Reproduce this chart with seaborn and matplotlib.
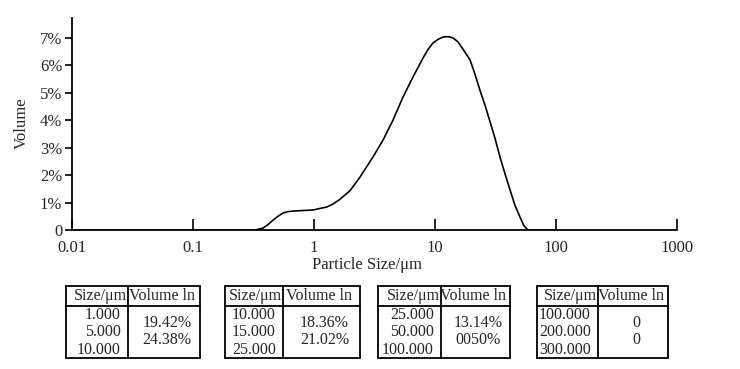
import numpy as np
import pandas as pd
import seaborn as sns
import matplotlib.pyplot as plt
from matplotlib.lines import Line2D
from matplotlib.ticker import FuncFormatter, FixedLocator, NullLocator

# Кривая распределения частиц по размерам
size_um = [0.01, 0.325, 0.379, 0.417, 0.459, 0.504, 0.554, 0.61, 0.671, 0.811,
           0.981, 1.28, 1.44, 1.64, 1.99, 2.40, 3.07, 3.72, 4.50, 5.44,
           6.58, 7.96, 8.75, 9.62, 10.6, 11.6, 12.3, 13.3, 14.1, 15.5,
           17.0, 19.5, 21.4, 23.5, 25.9, 28.5, 31.3, 34.5, 37.9, 41.7,
           45.8, 50.4, 54.4, 58.7, 100]
volume_pct = [0, 0, 0.07, 0.2, 0.36, 0.5, 0.62, 0.67, 0.69, 0.71,
              0.73, 0.84, 0.95, 1.12, 1.44, 1.93, 2.66, 3.28, 4.01, 4.85,
              5.58, 6.27, 6.58, 6.82, 6.95, 7.03, 7.05, 7.04, 7.0, 6.86,
              6.6, 6.2, 5.68, 5.1, 4.55, 3.95, 3.35, 2.65, 2.05, 1.46,
              0.9, 0.47, 0.15, 0, 0]

x_ticks = [0.01, 0.1, 1, 10, 100, 1000]
x_tick_labels = ['0.01', '0.1', '1', '10', '100', '1000']
y_ticks = [0, 1, 2, 3, 4, 5, 6, 7]

# Таблицы под графиком
table_sizes = [['1.000', '5.000', '10.000'],
               ['10.000', '15.000', '25.000'],
               ['25.000', '50.000', '100.000'],
               ['100.000', '200.000', '300.000']]
table_volumes = [['19.42%', '24.38%'],
                 ['18.36%', '21.02%'],
                 ['13.14%', '0050%'],
                 ['0', '0']]

W, H = 740, 369
sns.set_theme(style='white')
plt.rcParams['font.family'] = ['Liberation Serif', 'DejaVu Serif']
plt.rcParams['font.size'] = 12

df = pd.DataFrame({'size': size_um, 'volume': volume_pct})

fig = plt.figure(figsize=(W / 100, H / 100), dpi=100)
ax = fig.add_axes([72 / W, 1 - 230 / H, 605 / W, 212 / H])
sns.lineplot(data=df, x='size', y='volume', ax=ax, color='black', linewidth=1.2)
ax.set_xscale('log')
ax.set_xlim(0.01, 1000)
ax.set_ylim(0, 7.73)

ax.xaxis.set_major_locator(FixedLocator(x_ticks))
ax.xaxis.set_minor_locator(NullLocator())
ax.set_xticklabels(x_tick_labels)
ax.set_yticks(y_ticks)
ax.yaxis.set_major_formatter(FuncFormatter(lambda v, p: '0' if v == 0 else f'{int(v)}%'))
ax.tick_params(axis='x', direction='in', length=8, width=1.2, color='black',
               labelsize=12, pad=7, bottom=True)
ax.tick_params(axis='y', direction='out', length=5, width=1.2, color='black',
               labelsize=12, pad=2, left=True)

for s in ['top', 'right']:
    ax.spines[s].set_visible(False)
for s in ['left', 'bottom']:
    ax.spines[s].set_color('black')
    ax.spines[s].set_linewidth(1.3)

ax.set_xlabel('Particle Size/μm', fontsize=12)
ax.xaxis.set_label_coords((367 - 72) / 605, -(257 - 230) / 212)
ax.set_ylabel('Volume', fontsize=12)
ax.yaxis.set_label_coords(-(72 - 30) / 605, (230 - 123) / 212)


def fx(x):
    return x / W


def fy(y):
    return 1 - y / H


def hline(x0, x1, y):
    fig.add_artist(Line2D([fx(x0), fx(x1)], [fy(y), fy(y)], color='black', lw=1.3))


def vline(x, y0, y1):
    fig.add_artist(Line2D([fx(x), fx(x)], [fy(y0), fy(y1)], color='black', lw=1.3))


# (лево, разделитель, право)
table_boxes = [(66, 128, 200), (225, 283, 360), (378, 441, 510), (537, 598, 668)]
top, mid, bot = 286, 306, 358

for (left, div, right), sizes, vols in zip(table_boxes, table_sizes, table_volumes):
    hline(left, right, top)
    hline(left, right, mid)
    hline(left, right, bot)
    vline(left, top, bot)
    vline(right, top, bot)
    vline(div, top, bot)
    fig.text(fx(div - 1), fy(296), 'Size/μm', ha='right', va='center', fontsize=11.5)
    fig.text(fx((div + right) / 2 - 2), fy(296), 'Volume ln', ha='center', va='center', fontsize=11.5)
    for txt, yy in zip(sizes, [315, 332, 350]):
        fig.text(fx(div - 7), fy(yy), txt, ha='right', va='center', fontsize=11.5)
    for txt, yy in zip(vols, [323, 340]):
        fig.text(fx((div + right) / 2 + 3), fy(yy), txt, ha='center', va='center', fontsize=11.5)

fig.savefig('out.png', dpi=100, facecolor='white')
